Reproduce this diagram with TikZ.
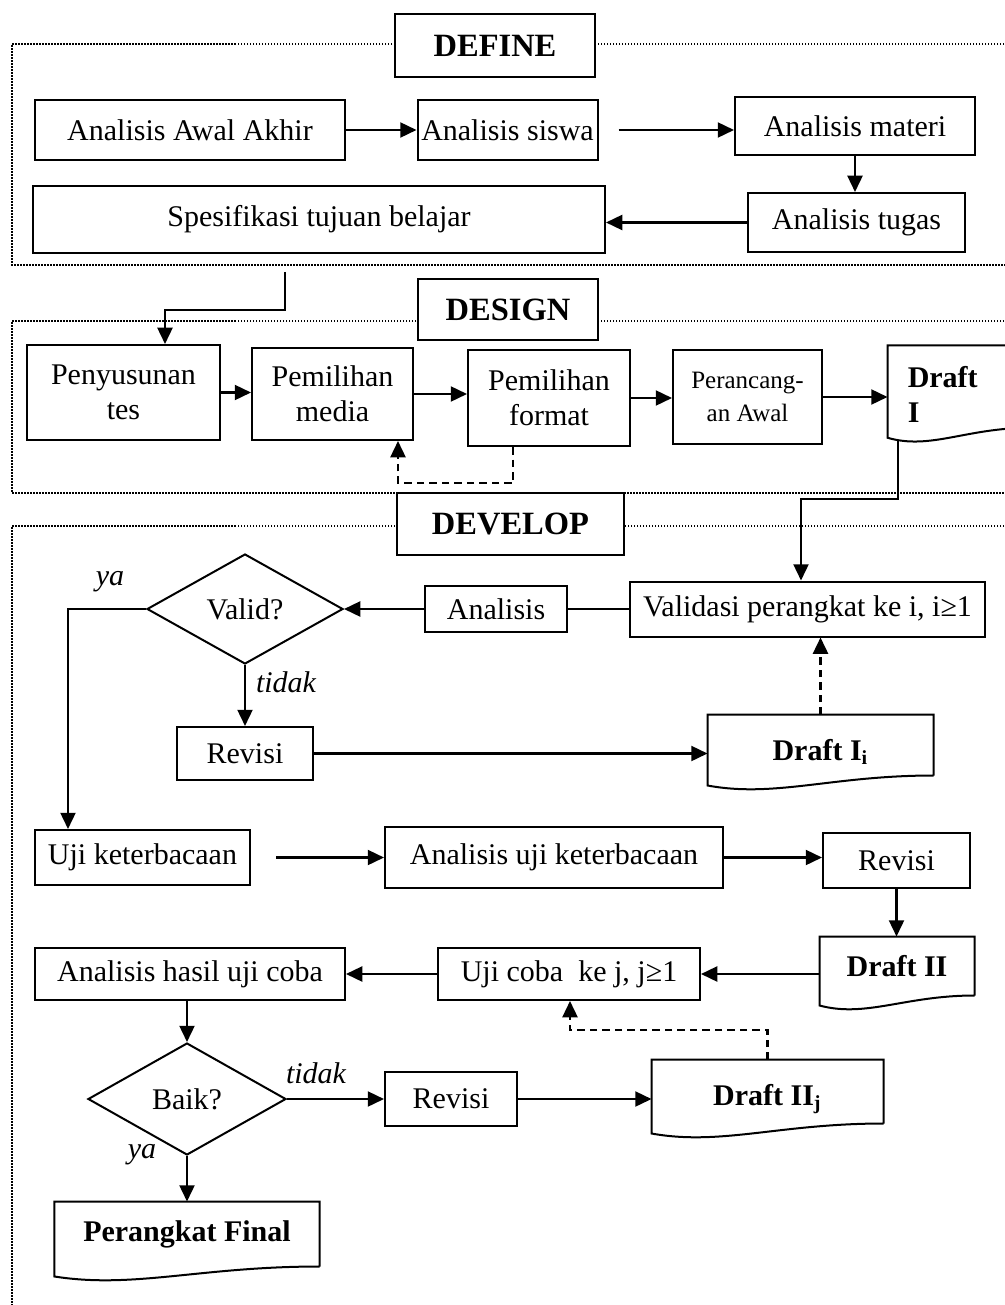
\documentclass[tikz,border=0pt]{standalone}
\usepackage{fontspec}
\setmainfont{Liberation Serif}
\usetikzlibrary{positioning,shapes.geometric,arrows.meta,calc}

% document shape: box with a wavy bottom edge
\newcommand{\drawdoc}[1]{%
  \draw[line width=0.8pt] (#1.south east) -- (#1.north east) -- (#1.north west)
    -- ($(#1.south west)+(0,-4pt)$)
    .. controls ($(#1.south west)!0.3!(#1.south east)+(0,-9pt)$) and ($(#1.south west)!0.55!(#1.south east)$) .. (#1.south east);}

\begin{document}
\begin{tikzpicture}[
    x=0.4pt, y=-0.4pt,
    every node/.style={font=\fontsize{12}{14}\selectfont},
    box/.style={rectangle, draw, line width=0.8pt, align=center, inner sep=1.5pt},
    head/.style={box, fill=white, font=\fontsize{13}{15}\selectfont\bfseries},
    doc/.style={rectangle, align=center, inner sep=2pt, font=\fontsize{12}{14}\selectfont\bfseries},
    decision/.style={diamond, draw, line width=0.8pt, inner sep=0pt},
    note/.style={font=\fontsize{12}{14}\selectfont\itshape},
    arr/.style={line width=0.9pt, -{Triangle[length=6.5pt,width=6pt]}},
    dasharr/.style={arr, dash pattern=on 3pt off 2pt},
    frameline/.style={line width=0.6pt, dash pattern=on 0.6pt off 0.6pt}
]
\useasboundingbox (0,0) rectangle (1005,1305);

% frames
\draw[frameline] (1010,44) -- (12,44) -- (12,265) -- (1010,265);
\draw[frameline] (1010,321) -- (12,321) -- (12,493) -- (1010,493);
\draw[frameline] (1010,526) -- (12,526) -- (12,1310);

\node[head, minimum width=80pt, minimum height=25.2pt] (define) at (495,45.5) {DEFINE};
\node[head, minimum width=72pt, minimum height=24.4pt] (design) at (508,309.5) {DESIGN};
\node[head, minimum width=90.8pt, minimum height=24.8pt] (develop) at (510.5,524) {DEVELOP};

% define
\node[box, minimum width=124pt, minimum height=24pt] (awal) at (190,130) {Analisis Awal Akhir};
\node[box, minimum width=70pt, minimum height=24pt] (siswa) at (507.5,130) {Analisis siswa};
\node[box, minimum width=96pt, minimum height=23.2pt] (materi) at (855,126) {Analisis materi};
\node[box, minimum width=86.8pt, minimum height=23.6pt] (tugas) at (856.5,222.5) {Analisis tugas};
\node[box, minimum width=228.8pt, minimum height=26.8pt] (tujuan) at (319,219.5) {Spesifikasi tujuan belajar};

\draw[arr] (awal.east) -- (siswa.west);
\draw[arr, shorten <=8pt] (siswa.east) -- (siswa.east -| materi.west);
\draw[arr] (materi.south) -- (materi.south |- tugas.north);
\draw[arr] (tugas.west) -- (tugas.west -| tujuan.east);

% design
\node[box, minimum width=77.2pt, minimum height=38pt] (susun) at (123.5,392.5) {Penyusunan\\tes};
\node[box, minimum width=64.4pt, minimum height=36.8pt] (media) at (332.5,394) {Pemilihan\\media};
\node[box, minimum width=64.8pt, minimum height=38.4pt] (format) at (549,398) {Pemilihan\\format};
\node[box, minimum width=59.6pt, minimum height=37.6pt, font=\fontsize{10}{13}\selectfont] (rancang) at (747.5,397) {Perancang-\\an Awal};
\node[doc, minimum width=56.8pt, minimum height=31.6pt, text width=41pt, text height=14.6pt, align=left] (draft1) at (959,386.5) {Draft\\I};
\drawdoc{draft1}

\coordinate (s1) at (285,272);
\coordinate (s2) at (165,310);
\draw[arr] (s1) -- (s1 |- s2) -- (s2) -- (s2 |- susun.north);
\draw[arr] (susun.east) -- (susun.east -| media.west);
\draw[arr] (media.east) -- (media.east -| format.west);
\draw[arr] (format.east) -- (format.east -| rancang.west);
\draw[arr] (rancang.east) -- (rancang.east -| draft1.west);
\coordinate (f1) at (513,483);
\coordinate (f2) at (398,483);
\draw[dasharr] (f1 |- format.south) -- (f1) -- (f2) -- (f2 |- media.south);

% develop
\node[box, minimum width=142pt, minimum height=22pt] (validasi) at (807.5,609) {Validasi perangkat ke i, i≥1};
\node[box, minimum width=56.8pt, minimum height=18.4pt] (analisis) at (496,609) {Analisis};
\node[decision, minimum width=78.4pt, minimum height=44pt] (valid) at (245,609) {Valid?};
\node[box, minimum width=54.4pt, minimum height=21.2pt] (revisi1) at (245,753.5) {Revisi};
\node[doc, minimum width=90pt, minimum height=24pt, text height=14pt] (draft1i) at (820.5,745) {Draft I\textsubscript{i}};
\drawdoc{draft1i}
\node[note] (ya1) at (110,582) {ya};
\node[note] (tidak1) at (286,682) {tidak};

\coordinate (g0) at (898,440);
\coordinate (g1) at (898,499);
\coordinate (g2) at (801,499);
\draw[arr] (g0) -- (g1) -- (g2) -- (g2 |- validasi.north);
\draw[line width=0.9pt] (validasi.west) -- (analisis.east);
\draw[arr] (analisis.west) -- (valid.east);
\draw[arr] (valid.south) -- (revisi1.north);
\draw[arr] (revisi1.east) -- (revisi1.east -| draft1i.west);
\draw[dasharr] (draft1i.north) -- (draft1i.north |- validasi.south);

\node[box, minimum width=86pt, minimum height=22pt] (uji) at (142.5,857.5) {Uji keterbacaan};
\node[box, minimum width=135.2pt, minimum height=24.4pt] (anuji) at (554,857.5) {Analisis uji keterbacaan};
\node[box, minimum width=58.8pt, minimum height=22pt] (revisi2) at (896.5,860.5) {Revisi};
\node[doc, minimum width=61.6pt, minimum height=23.2pt] (draft2) at (897,966) {Draft II};
\drawdoc{draft2}
\node[box, minimum width=104.8pt, minimum height=20.8pt] (ujicoba) at (569,974) {Uji coba~ ke j, j≥1};
\node[box, minimum width=124pt, minimum height=20.8pt] (hasil) at (190,974) {Analisis hasil uji coba};

\coordinate (h1) at (68,609);
\draw[arr] (valid.west) -- (h1) -- (h1 |- uji.north);
\draw[arr, shorten <=10pt] (uji.east) -- (uji.east -| anuji.west);
\draw[arr] (anuji.east) -- (anuji.east -| revisi2.west);
\draw[arr] (revisi2.south) -- (revisi2.south |- draft2.north);
\draw[arr] (ujicoba.east -| draft2.west) -- (ujicoba.east);
\draw[arr] (ujicoba.west) -- (hasil.east);

\node[decision, minimum width=79.2pt, minimum height=44.8pt] (baik) at (187,1099) {Baik?};
\node[box, minimum width=52.8pt, minimum height=21.6pt] (revisi3) at (451,1099) {Revisi};
\node[doc, minimum width=92.4pt, minimum height=25.2pt, text height=14.6pt] (draft2j) at (767.5,1091.5) {Draft II\textsubscript{j}};
\drawdoc{draft2j}
\node[doc, minimum width=105.6pt, minimum height=25.6pt] (final) at (187,1234) {Perangkat Final};
\drawdoc{final}
\node[note] (tidak2) at (316,1073) {tidak};
\node[note] (ya2) at (142,1155) {ya};

\draw[arr] (baik.north |- hasil.south) -- (baik.north);
\draw[arr] (baik.east) -- (revisi3.west);
\draw[arr] (revisi3.east) -- (revisi3.east -| draft2j.west);
\coordinate (k1) at (570,1030);
\draw[dasharr] (draft2j.north) |- (k1) -- (k1 |- ujicoba.south);
\draw[arr] (baik.south) -- (baik.south |- final.north);
\end{tikzpicture}
\end{document}
